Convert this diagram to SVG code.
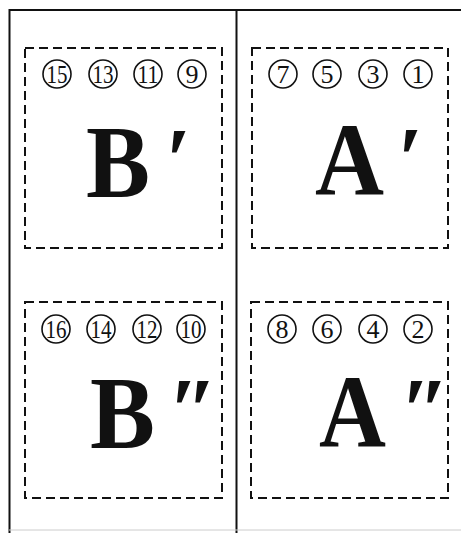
<svg xmlns="http://www.w3.org/2000/svg" width="461" height="533" viewBox="0 0 461 533">
<style>
.frame{fill:none;stroke:#111;stroke-width:2}
.dash{fill:none;stroke:#111;stroke-width:2;stroke-dasharray:9 5}
.circ{fill:none;stroke:#111;stroke-width:1.6}
.num{font-family:"Liberation Serif",serif;font-size:26px;fill:#111;text-anchor:middle}
.big{font-family:"Liberation Serif",serif;font-weight:bold;font-size:104px;fill:#111}
.pr{font-family:"Liberation Serif",serif;font-weight:bold;font-size:90px;fill:#111}
</style>
<rect width="461" height="533" fill="#fff"/>
<g id="frame">
<path class="frame" d="M9.5,545 V10 H461"/>
<line class="frame" x1="236.5" y1="10" x2="236.5" y2="545"/>
<line x1="9" y1="530" x2="461" y2="530" stroke="#ccc" stroke-width="1"/>
</g>
<g id="panel-B1">
<rect class="dash" x="25" y="48" width="197" height="200"/>
<g class="circ"><circle cx="57" cy="74" r="14"/><circle cx="103" cy="74" r="14"/><circle cx="148" cy="74" r="14"/><circle cx="192" cy="74" r="14"/></g>
<text class="num" x="57" y="83" textLength="21" lengthAdjust="spacingAndGlyphs">15</text>
<text class="num" x="103" y="83" textLength="21" lengthAdjust="spacingAndGlyphs">13</text>
<text class="num" x="148" y="83" textLength="21" lengthAdjust="spacingAndGlyphs">11</text>
<text class="num" x="192" y="83">9</text>
<text class="big" x="86" y="197" textLength="64" lengthAdjust="spacingAndGlyphs">B</text>
<text class="pr" x="166" y="191">′</text>
</g>
<g id="panel-A1">
<rect class="dash" x="252" y="48" width="196" height="200"/>
<g class="circ"><circle cx="283" cy="74" r="14"/><circle cx="327" cy="74" r="14"/><circle cx="373" cy="74" r="14"/><circle cx="418" cy="74" r="14"/></g>
<text class="num" x="283" y="83">7</text>
<text class="num" x="327" y="83">5</text>
<text class="num" x="373" y="83">3</text>
<text class="num" x="418" y="83">1</text>
<text class="big" x="315" y="195" textLength="69" lengthAdjust="spacingAndGlyphs">A</text>
<text class="pr" x="398" y="190">′</text>
</g>
<g id="panel-B2">
<rect class="dash" x="25" y="302" width="197" height="196"/>
<g class="circ"><circle cx="56" cy="329" r="14"/><circle cx="101" cy="329" r="14"/><circle cx="147" cy="329" r="14"/><circle cx="191" cy="329" r="14"/></g>
<text class="num" x="56" y="338" textLength="21" lengthAdjust="spacingAndGlyphs">16</text>
<text class="num" x="101" y="338" textLength="21" lengthAdjust="spacingAndGlyphs">14</text>
<text class="num" x="147" y="338" textLength="21" lengthAdjust="spacingAndGlyphs">12</text>
<text class="num" x="191" y="338" textLength="21" lengthAdjust="spacingAndGlyphs">10</text>
<text class="big" x="90" y="448" textLength="65" lengthAdjust="spacingAndGlyphs">B</text>
<text class="pr" x="168" y="441">″</text>
</g>
<g id="panel-A2">
<rect class="dash" x="251" y="302" width="197" height="196"/>
<g class="circ"><circle cx="282" cy="329" r="14"/><circle cx="327" cy="329" r="14"/><circle cx="373" cy="329" r="14"/><circle cx="418" cy="329" r="14"/></g>
<text class="num" x="282" y="338">8</text>
<text class="num" x="327" y="338">6</text>
<text class="num" x="373" y="338">4</text>
<text class="num" x="418" y="338">2</text>
<text class="big" x="319" y="447" textLength="67" lengthAdjust="spacingAndGlyphs">A</text>
<text class="pr" x="400" y="441">″</text>
</g>
</svg>
